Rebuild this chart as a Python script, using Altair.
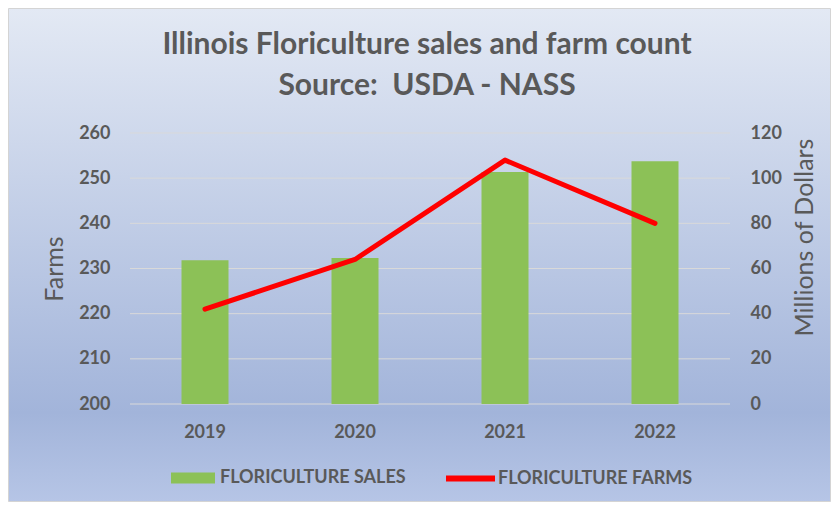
import altair as alt
import pandas as pd

years = ["2019", "2020", "2021", "2022"]
sales_musd = [63.6, 64.7, 102.7, 107.5]
farms = [221, 232, 254, 240]

title_lines = ["Illinois Floriculture sales and farm count", "Source:\u00a0\u00a0USDA - NASS"]
sales_label = "FLORICULTURE SALES"
farms_label = "FLORICULTURE FARMS"
left_ticks = [200, 210, 220, 230, 240, 250, 260]
right_ticks = [0, 20, 40, 60, 80, 100, 120]

df = pd.DataFrame({"year": years, "sales": sales_musd, "farms": farms})
grid_df = pd.DataFrame({"tick": left_ticks})

TXT = "#595959"
FONT = "Lato"
W, H = 600, 271
PL, PT, PR, PB = 122, 125, 101, 98

grad = alt.LinearGradient(
    gradient="linear",
    stops=[
        alt.GradientStop(offset=0, color="#e3e9f4"),
        alt.GradientStop(offset=0.82, color="#a2b4da"),
        alt.GradientStop(offset=1, color="#b6c5e6"),
    ],
    x1=0, x2=0, y1=0, y2=1,
)

bg = alt.Chart(alt.Data(values=[{"k": 1}])).mark_rect(
    fill=grad, stroke="#d4d4d4", strokeWidth=1
).encode(
    x=alt.value(-PL + 0.5), x2=alt.value(W + PR - 0.5),
    y=alt.value(-PT + 0.5), y2=alt.value(H + PB - 0.5),
)

gridlines = alt.Chart(grid_df).mark_rule(color="#d9d9d9", strokeWidth=1).encode(
    y=alt.Y("tick:Q", scale=alt.Scale(domain=[200, 260], nice=False), axis=None),
    x=alt.value(0), x2=alt.value(W),
)

xenc = alt.X(
    "year:O",
    scale=alt.Scale(paddingInner=0, paddingOuter=0),
    axis=alt.Axis(
        title=None, labelAngle=0, ticks=False, domain=False, grid=False, zindex=2,
        labelPadding=19, labelFontSize=18, labelFont=FONT, labelFontWeight="bold",
        labelColor=TXT,
    ),
)

bars = alt.Chart(df).transform_calculate(series=f"'{sales_label}'").mark_bar(
    size=47
).encode(
    x=xenc,
    y=alt.Y(
        "sales:Q",
        scale=alt.Scale(domain=[0, 120], nice=False),
        axis=alt.Axis(
            orient="right", values=right_ticks, grid=False, ticks=False, domain=False,
            zindex=2,
            labelPadding=20, labelFontSize=18, labelFont=FONT, labelFontWeight="bold",
            labelColor=TXT, title="Millions of Dollars", titleFont=FONT,
            titleFontSize=25, titleFontWeight="normal", titleColor=TXT,
            titleAngle=270, titleX=74, titleY=104, titleAlign="center",
            titleBaseline="middle",
        ),
    ),
    color=alt.Color(
        "series:N",
        scale=alt.Scale(domain=[sales_label], range=["#8cc157"]),
        legend=alt.Legend(
            title=None, orient="none", legendX=41, legendY=323, padding=0,
            symbolType="M-1,-0.25H1V0.25H-1Z", symbolSize=1936, symbolStrokeWidth=0,
            labelOffset=5, labelFont=FONT, labelFontSize=18, labelFontWeight="bold",
            labelColor=TXT, symbolOpacity=1, labelLimit=0, zindex=2,
        ),
    ),
)

line = alt.Chart(df).transform_calculate(series=f"'{farms_label}'").mark_line(
    strokeWidth=5, strokeCap="round", strokeJoin="round"
).encode(
    x=xenc,
    y=alt.Y(
        "farms:Q",
        scale=alt.Scale(domain=[200, 260], nice=False),
        axis=alt.Axis(
            orient="left", values=left_ticks, grid=False, ticks=False, domain=False,
            zindex=2, labelPadding=20,
            labelFontSize=18, labelFont=FONT, labelFontWeight="bold", labelColor=TXT,
            title="Farms", titleFont=FONT, titleFontSize=25, titleFontWeight="normal",
            titleColor=TXT, titleAngle=270, titleX=-76, titleY=H / 2,
            titleAlign="center", titleBaseline="middle",
        ),
    ),
    color=alt.Color(
        "series:N",
        scale=alt.Scale(domain=[farms_label], range=["#ff0000"]),
        legend=alt.Legend(
            title=None, orient="none", legendX=313, legendY=318, padding=0,
            symbolType="stroke", symbolSize=2401, symbolStrokeWidth=6,
            labelOffset=0, labelFont=FONT, labelFontSize=18, labelFontWeight="bold",
            labelColor=TXT, labelLimit=0, zindex=2,
        ),
    ),
)

chart = alt.layer(bg, gridlines, bars, line).resolve_scale(
    y="independent", color="independent"
).properties(
    width=W, height=H,
    autosize=alt.AutoSizeParams(type="none"),
    padding={"left": PL, "top": PT, "right": PR, "bottom": PB},
    title=alt.TitleParams(
        text=title_lines, font=FONT, fontSize=30, fontWeight="bold", color=TXT,
        lineHeight=41, anchor="middle", offset=0, dx=-3, dy=93, zindex=2,
    ),
).configure_view(stroke=None).configure(background="white")

chart.save("out.html", embed_options={"renderer": "svg", "actions": False})
